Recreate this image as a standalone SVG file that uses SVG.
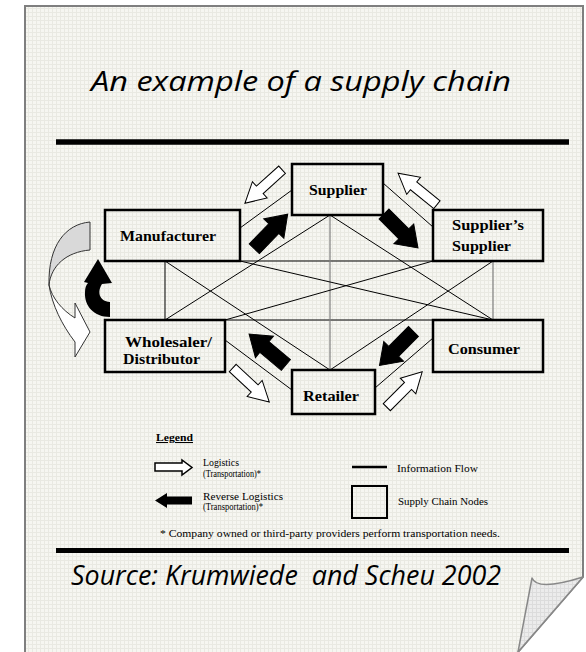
<svg xmlns="http://www.w3.org/2000/svg" width="586" height="652" viewBox="0 0 586 652">
<style>
.ttl{font-family:"Open Sans","DejaVu Sans",sans-serif;font-style:italic;font-size:27px;fill:#000}
.lbl{font-family:"Liberation Serif","Times New Roman",serif;font-weight:bold;font-size:14px;fill:#000}
.leg{font-family:"Liberation Serif","Times New Roman",serif;font-size:10.5px;fill:#000}
.box{fill:none;stroke:#000;stroke-width:2.5}
.info{stroke:#000;stroke-width:1;fill:none}
.infog{stroke:#808080;stroke-width:1.2;fill:none}
.rev{fill:#000;stroke:#000;stroke-width:1}
.log{fill:#fff;stroke:#000;stroke-width:1}
</style>
<defs>
<pattern id="grid" width="4" height="4" patternUnits="userSpaceOnUse">
<rect width="4" height="4" fill="#f6f6f1"/>
<path d="M0,0.5H4M0.5,0V4" stroke="#e9e9e2" stroke-width="1"/>
</pattern>
<pattern id="grid2" width="4" height="4" patternUnits="userSpaceOnUse">
<rect width="4" height="4" fill="#ececec"/>
<path d="M0,0.5H4M0.5,0V4" stroke="#dcdcdc" stroke-width="1"/>
</pattern>
<path id="arrowB" d="M-24,-7H4V-14L24,0L4,14V7H-24Z"/>
<path id="arrowH" d="M-25,-5H5V-11L25,0L5,11V5H-25Z"/>
</defs>

<rect width="586" height="652" fill="#fff"/>
<g id="page">
<path d="M25,6H583V577L518,652H25Z" fill="url(#grid)"/>
<path d="M25,652V6H583V577L518,652" fill="none" stroke="#7f7f7f" stroke-width="2"/>
<path d="M532,578C535,586 548,588 583,577L518,652Z" fill="url(#grid2)" stroke="#888" stroke-width="1.5" stroke-linejoin="round"/>
</g>

<g id="title">
<text class="ttl" x="91" y="91" textLength="420" lengthAdjust="spacingAndGlyphs">An example of a supply chain</text>
</g>
<line x1="56" y1="142" x2="569" y2="142" stroke="#000" stroke-width="5.5"/>

<g id="connectors">
<line class="info" x1="240" y1="228" x2="292" y2="190"/>
<line class="info" x1="383" y1="183" x2="433" y2="227"/>
<line class="info" x1="225" y1="340" x2="292" y2="390"/>
<line class="info" x1="375" y1="388" x2="433" y2="338"/>
<line class="info" x1="240" y1="261" x2="433" y2="261"/>
<line class="info" x1="225" y1="320" x2="433" y2="320"/>
<line class="info" x1="165" y1="261" x2="165" y2="320"/>
<line class="infog" x1="493" y1="261" x2="493" y2="320"/>
<line class="infog" x1="330" y1="215" x2="330" y2="370"/>
<line class="info" x1="165" y1="261" x2="330" y2="370"/>
<line class="info" x1="165" y1="320" x2="330" y2="215"/>
<line class="info" x1="240" y1="261" x2="493" y2="320"/>
<line class="info" x1="225" y1="320" x2="433" y2="261"/>
<line class="info" x1="493" y1="261" x2="330" y2="370"/>
<line class="info" x1="330" y1="215" x2="493" y2="320"/>
</g>

<g id="arrows">
<use href="#arrowB" class="rev" transform="translate(271,231.5) rotate(-46)"/>
<use href="#arrowB" class="rev" transform="translate(401,231) rotate(45)"/>
<use href="#arrowB" class="rev" transform="translate(267.5,349.5) rotate(-140)"/>
<use href="#arrowB" class="rev" transform="translate(396.5,348.5) rotate(135)"/>
<use href="#arrowH" class="log" transform="translate(263.5,186.5) rotate(138)"/>
<use href="#arrowH" class="log" transform="translate(417.5,189) rotate(-141)"/>
<use href="#arrowH" class="log" transform="translate(251,385) rotate(43)"/>
<use href="#arrowH" class="log" transform="translate(404.5,389.5) rotate(-45)"/>
<path d="M49,285C52,305 62,325 75,342L75,357L90,332L75,303L75,318C62,310 52,298 49,285Z" fill="#fff" stroke="#333" stroke-width="1"/>
<path d="M90,222C66,224 48,245 49,285C51,266 66,252 90,250Z" fill="#d9d9d9" stroke="#333" stroke-width="1"/>
<path d="M98,259L112,283L102,284C97,292 99,301 110,302L110,317C94,317 84,306 85,292C85,288 86,285 88,283L84,282Z" fill="#000"/>
</g>

<g id="supplier">
<rect class="box" x="292" y="164" width="91" height="51"/>
<text class="lbl" x="309" y="195" textLength="58" lengthAdjust="spacingAndGlyphs">Supplier</text>
</g>
<g id="manufacturer">
<rect class="box" x="105" y="210" width="135" height="51"/>
<text class="lbl" x="120" y="241" textLength="96" lengthAdjust="spacingAndGlyphs">Manufacturer</text>
</g>
<g id="suppliers-supplier">
<rect class="box" x="433" y="210" width="110" height="51"/>
<text class="lbl" x="452" y="230" textLength="72" lengthAdjust="spacingAndGlyphs">Supplier’s</text>
<text class="lbl" x="452" y="251" textLength="59" lengthAdjust="spacingAndGlyphs">Supplier</text>
</g>
<g id="wholesaler">
<rect class="box" x="105" y="320" width="120" height="52"/>
<text class="lbl" x="125" y="347" textLength="87" lengthAdjust="spacingAndGlyphs">Wholesaler/</text>
<text class="lbl" x="123" y="364" textLength="77" lengthAdjust="spacingAndGlyphs">Distributor</text>
</g>
<g id="consumer">
<rect class="box" x="433" y="320" width="110" height="52"/>
<text class="lbl" x="448" y="354" textLength="72" lengthAdjust="spacingAndGlyphs">Consumer</text>
</g>
<g id="retailer">
<rect class="box" x="292" y="370" width="83" height="44"/>
<text class="lbl" x="303" y="401" textLength="56" lengthAdjust="spacingAndGlyphs">Retailer</text>
</g>

<g id="legend">
<text class="leg" x="156" y="441" font-weight="bold" text-decoration="underline" textLength="37" lengthAdjust="spacingAndGlyphs">Legend</text>
<path d="M155,463H182V460L192,467.5L182,475V471H155Z" fill="#fff" stroke="#000" stroke-width="1.5"/>
<text class="leg" x="203" y="466" textLength="36" lengthAdjust="spacingAndGlyphs">Logistics</text>
<text class="leg" x="203" y="477" textLength="58" lengthAdjust="spacingAndGlyphs">(Transportation)*</text>
<path d="M155,500.5L167,493V496.5H192V504.5H167V508Z" fill="#000"/>
<text class="leg" x="203" y="500" textLength="80" lengthAdjust="spacingAndGlyphs">Reverse Logistics</text>
<text class="leg" x="203" y="510" textLength="60" lengthAdjust="spacingAndGlyphs">(Transportation)*</text>
<line x1="352" y1="467" x2="387" y2="467" stroke="#000" stroke-width="2.5"/>
<text class="leg" x="397" y="472" textLength="81" lengthAdjust="spacingAndGlyphs">Information Flow</text>
<rect x="352" y="486" width="35" height="32" fill="none" stroke="#000" stroke-width="2"/>
<text class="leg" x="398" y="505" textLength="90" lengthAdjust="spacingAndGlyphs">Supply Chain Nodes</text>
<text class="leg" x="160" y="537" textLength="340" lengthAdjust="spacingAndGlyphs">* Company owned or third-party providers perform transportation needs.</text>
</g>

<line x1="56" y1="550.5" x2="569" y2="550.5" stroke="#000" stroke-width="5"/>
<g id="source">
<text class="ttl" x="71" y="585" textLength="430" lengthAdjust="spacingAndGlyphs" xml:space="preserve">Source: Krumwiede  and Scheu 2002</text>
</g>
</svg>
